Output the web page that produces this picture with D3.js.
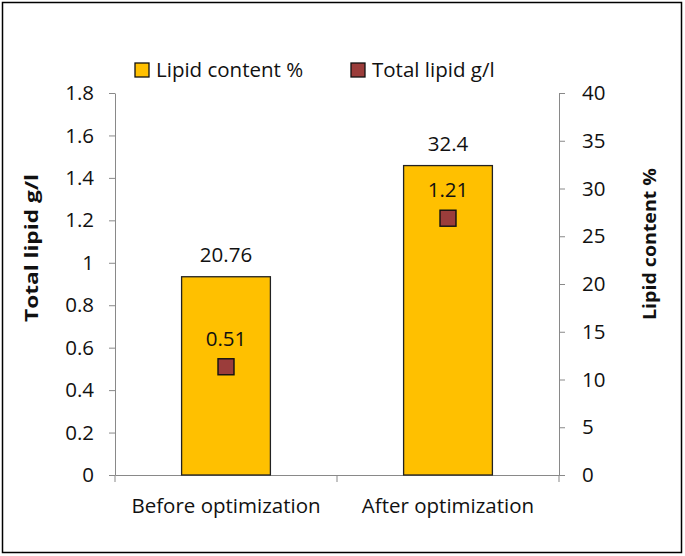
<!DOCTYPE html>
<html><head><meta charset="utf-8">
<script src="https://cdn.jsdelivr.net/npm/d3@7"></script>
<style>body{margin:0;background:#fff}svg{display:block}text{font-family:"Open Sans",sans-serif}</style>
</head><body><svg id="c" width="685" height="556"></svg>
<script>
const categories = ["Before optimization", "After optimization"];
const lipidContent = [20.76, 32.4];
const totalLipid = [0.51, 1.21];
const leftTicks = [0, 0.2, 0.4, 0.6, 0.8, 1, 1.2, 1.4, 1.6, 1.8];
const rightTicks = [0, 5, 10, 15, 20, 25, 30, 35, 40];
const seriesNames = ["Lipid content %", "Total lipid g/l"];

const svg = d3.select("#c");
const L = 115, R = 559, T = 93, B = 475;
const fs = 20.5;
const FF = "'Open Sans',sans-serif";
svg.append("rect").attr("x", 2.5).attr("y", 2.5).attr("width", 679).attr("height", 550)
  .attr("fill", "#fff").attr("stroke", "#000").attr("stroke-width", 1.5);

const x = d3.scaleBand().domain(categories).range([L, R]).paddingInner(0).paddingOuter(0);
const yL = d3.scaleLinear().domain([0, 1.8]).range([B, T]);
const yR = d3.scaleLinear().domain([0, 40]).range([B, T]);
const grey = "#898989";

// left axis
const gl = svg.append("g").attr("transform", `translate(${L},0)`)
  .call(d3.axisLeft(yL).tickValues(leftTicks).tickFormat(d => String(+d.toFixed(1))).tickSize(6).tickSizeOuter(0).tickPadding(15));
gl.select(".domain").attr("stroke", grey);
gl.selectAll(".tick line").attr("stroke", grey);
gl.selectAll(".tick text").attr("font-size", fs).attr("fill", "#111").style("font-family", FF);

// right axis
const gr = svg.append("g").attr("transform", `translate(${R},0)`)
  .call(d3.axisRight(yR).tickValues(rightTicks).tickSize(6).tickSizeOuter(0).tickPadding(17));
gr.select(".domain").attr("stroke", grey);
gr.selectAll(".tick line").attr("stroke", grey);
gr.selectAll(".tick text").attr("font-size", fs).attr("fill", "#111").style("font-family", FF);

// bottom axis
const gb = svg.append("g").attr("transform", `translate(0,${B})`)
  .call(d3.axisBottom(x).tickSize(0).tickPadding(23));
gb.select(".domain").attr("stroke", grey);
gb.selectAll(".tick text").attr("font-size", fs).attr("fill", "#111").style("font-family", FF);
const bounds = [L, L + x.step(), R];
svg.selectAll(".bt").data(bounds).enter().append("line")
  .attr("x1", d => d).attr("x2", d => d).attr("y1", B).attr("y2", B + 7).attr("stroke", grey);

// bars
const bw = x.bandwidth() * 0.4;
svg.selectAll(".bar").data(categories).enter().append("rect")
  .attr("x", d => x(d) + x.bandwidth() / 2 - bw / 2)
  .attr("y", (d, i) => yR(lipidContent[i]))
  .attr("width", bw)
  .attr("height", (d, i) => B - yR(lipidContent[i]))
  .attr("fill", "#FFC000").attr("stroke", "#222").attr("stroke-width", 1.3);
svg.selectAll(".bl").data(categories).enter().append("text")
  .attr("x", d => x(d) + x.bandwidth() / 2)
  .attr("y", (d, i) => yR(lipidContent[i]) - 15)
  .attr("text-anchor", "middle").attr("font-size", fs).attr("fill", "#111")
  .text((d, i) => lipidContent[i]);

// markers
const ms = 16;
svg.selectAll(".mk").data(categories).enter().append("rect")
  .attr("x", d => x(d) + x.bandwidth() / 2 - ms / 2)
  .attr("y", (d, i) => yL(totalLipid[i]) - ms / 2)
  .attr("width", ms).attr("height", ms)
  .attr("fill", "#9B3D3B").attr("stroke", "#111").attr("stroke-width", 1.4);
svg.selectAll(".ml").data(categories).enter().append("text")
  .attr("x", d => x(d) + x.bandwidth() / 2)
  .attr("y", (d, i) => yL(totalLipid[i]) - 21)
  .attr("text-anchor", "middle").attr("font-size", fs).attr("fill", "#111")
  .text((d, i) => totalLipid[i]);

// axis titles
svg.append("text").attr("transform", "translate(38,248) rotate(-90)")
  .attr("text-anchor", "middle").attr("font-size", 18).attr("font-weight", "bold").attr("fill", "#111")
  .attr("textLength", 148).attr("lengthAdjust", "spacingAndGlyphs")
  .text(seriesNames[1]);
svg.append("text").attr("transform", "translate(656,244) rotate(-90)")
  .attr("text-anchor", "middle").attr("font-size", 18).attr("font-weight", "bold").attr("fill", "#111")
  .attr("textLength", 152).attr("lengthAdjust", "spacingAndGlyphs")
  .text(seriesNames[0]);

// legend
const leg = [{name: seriesNames[0], c: "#FFC000", x: 135}, {name: seriesNames[1], c: "#9B3D3B", x: 351}];
const lg = svg.selectAll(".lg").data(leg).enter().append("g").attr("transform", d => `translate(${d.x},63)`);
lg.append("rect").attr("width", 14).attr("height", 14).attr("fill", d => d.c).attr("stroke", "#111").attr("stroke-width", 1.3);
lg.append("text").attr("x", 21).attr("y", 14).attr("font-size", fs).attr("fill", "#111").text(d => d.name);
</script></body></html>
